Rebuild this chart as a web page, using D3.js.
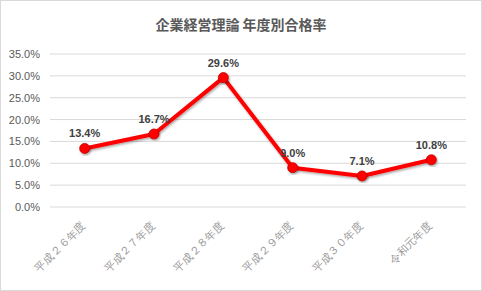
<!DOCTYPE html>
<html>
<head>
<meta charset="utf-8">
<script src="https://cdn.jsdelivr.net/npm/d3@7"></script>
<style>
  body { margin: 0; background: #fff; }
  svg { display: block; font-family: "Noto Sans CJK JP", "Noto Sans", sans-serif; }
</style>
</head>
<body>
<svg id="chart"></svg>
<script>
const TITLE = '企業経営理論 年度別合格率';
const categories = ['平成２６年度', '平成２７年度', '平成２８年度', '平成２９年度', '平成３０年度', '令和元年度'];
const rates = [13.4, 16.7, 29.6, 9.0, 7.1, 10.8];
const yTicks = [0, 5, 10, 15, 20, 25, 30, 35];

const width = 482;
const height = 291;
const margin = { top: 54, right: 16, bottom: 84, left: 50 };

const svg = d3.select('#chart')
    .attr('width', width)
    .attr('height', height);

svg.append('rect')
    .attr('x', 0.5).attr('y', 0.5)
    .attr('width', width - 1).attr('height', height - 1)
    .attr('fill', '#fff')
    .attr('stroke', '#d9d9d9');

const defs = svg.append('defs');
const shadow = defs.append('filter').attr('id', 'shadow')
    .attr('x', '-20%').attr('y', '-20%').attr('width', '140%').attr('height', '140%');
shadow.append('feDropShadow')
    .attr('dx', 1).attr('dy', 1.5).attr('stdDeviation', 1.2)
    .attr('flood-color', '#000').attr('flood-opacity', 0.35);

svg.append('text')
    .attr('x', width / 2)
    .attr('y', 30)
    .attr('text-anchor', 'middle')
    .attr('fill', '#595959')
    .style('font-size', '14px')
    .style('font-weight', 'bold')
    .text(TITLE);

const g = svg.append('g')
    .attr('transform', `translate(${margin.left},${margin.top})`);

const innerW = width - margin.left - margin.right;
const innerH = height - margin.top - margin.bottom;

const x = d3.scalePoint()
    .domain(categories)
    .range([0, innerW])
    .padding(0.5);

const y = d3.scaleLinear()
    .domain([0, 35])
    .range([innerH, 0]);

// grid
g.selectAll('.grid')
    .data(yTicks)
    .enter()
    .append('line')
    .attr('class', 'grid')
    .attr('x1', 0).attr('x2', innerW)
    .attr('y1', d => y(d)).attr('y2', d => y(d))
    .attr('stroke', '#d9d9d9')
    .attr('stroke-width', 1);

// y axis
const yAxis = g.append('g')
    .call(d3.axisLeft(y).tickValues(yTicks).tickSize(0).tickPadding(10)
        .tickFormat(d => d.toFixed(1) + '%'));
yAxis.select('.domain').remove();
yAxis.selectAll('text')
    .attr('fill', '#595959')
    .style('font-family', '"Liberation Sans", Arial, sans-serif')
    .style('font-size', '11px');

// x axis
const xAxis = g.append('g')
    .attr('transform', `translate(0,${innerH})`)
    .call(d3.axisBottom(x).tickSize(0));
xAxis.select('.domain').remove();
xAxis.selectAll('text')
    .attr('fill', '#999999')
    .style('font-size', '11px')
    .attr('text-anchor', 'end')
    .attr('x', 0)
    .attr('y', 0)
    .attr('dy', 0)
    .attr('transform', 'translate(1,19) rotate(-45)');

// line
const line = d3.line()
    .x((d, i) => x(categories[i]))
    .y(d => y(d));

g.append('path')
    .datum(rates)
    .attr('fill', 'none')
    .attr('stroke', '#ff0000')
    .attr('stroke-width', 4)
    .attr('stroke-linejoin', 'round')
    .attr('filter', 'url(#shadow)')
    .attr('d', line);

g.selectAll('.point')
    .data(rates)
    .enter()
    .append('circle')
    .attr('class', 'point')
    .attr('cx', (d, i) => x(categories[i]))
    .attr('cy', d => y(d))
    .attr('r', 5)
    .attr('fill', '#ff0000')
    .attr('stroke', '#c00000')
    .attr('stroke-width', 0.8)
    .attr('filter', 'url(#shadow)');

g.selectAll('.label')
    .data(rates)
    .enter()
    .append('text')
    .attr('class', 'label')
    .attr('x', (d, i) => x(categories[i]))
    .attr('y', d => y(d) - 11)
    .attr('text-anchor', 'middle')
    .attr('fill', '#404040')
    .style('font-family', '"Liberation Sans", Arial, sans-serif')
    .style('font-size', '11px')
    .style('font-weight', 'bold')
    .text(d => d.toFixed(1) + '%');
</script>
</body>
</html>
